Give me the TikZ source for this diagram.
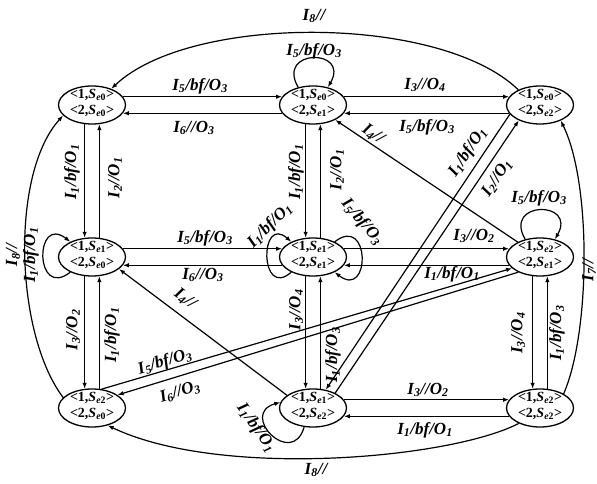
\documentclass[tikz,border=0pt]{standalone}
\usepackage{fontspec}
\setmainfont{Liberation Serif}
\usetikzlibrary{shapes.geometric,arrows.meta}
% transition labels: input / action / output
\newcommand{\io}[3]{\textit{I}\textsubscript{#1}/#2/\textit{O}\textsubscript{#3}}
\newcommand{\iz}[1]{\textit{I}\textsubscript{#1}//}
% state pair <1,S_e#1> over <2,S_e#2>
\newcommand{\pr}[2]{\raisebox{-0.27em}{\smash{\makebox[0pt]{\begin{tabular}{@{}c@{}}<1,\textit{S}\textsubscript{\textit{e}#1}>\\<2,\textit{S}\textsubscript{\textit{e}#2}>\end{tabular}}}}}
\begin{document}
\begin{tikzpicture}[x=1pt,y=1pt,
  st/.style={ellipse,draw,line width=1.3pt,minimum width=67pt,minimum height=38pt,
    inner sep=0pt,font=\fontsize{14}{16}\selectfont\bfseries},
  lab/.style={inner sep=0pt,font=\fontsize{17}{17}\selectfont\bfseries\itshape},
  arr/.style={line width=1.2pt,-{Latex[length=6pt,width=4.5pt]}}]
\fill[white] (0,0) rectangle (597,484);
\useasboundingbox (0,0) rectangle (597,484);

% states
\node[st] (A) at (92,379) {\pr{0}{0}};
\node[st] (B) at (313,379) {\pr{0}{1}};
\node[st] (C) at (540,379) {\pr{0}{2}};
\node[st] (D) at (92,227) {\pr{1}{0}};
\node[st] (E) at (313,227) {\pr{1}{1}};
\node[st] (F) at (540,227) {\pr{2}{1}};
\node[st] (G) at (92,76) {\pr{2}{0}};
\node[st] (H) at (313,76) {\pr{1}{2}};
\node[st] (I) at (540,76) {\pr{2}{2}};

% horizontal transitions
\draw[arr] (A.15) -- (B.165);
\draw[arr] (B.195) -- (A.345);
\draw[arr] (B.15) -- (C.165);
\draw[arr] (C.195) -- (B.345);
\draw[arr] (D.15) -- (E.165);
\draw[arr] (E.195) -- (D.345);
\draw[arr] (E.15) -- (F.165);
\draw[arr] (F.195) -- (E.345);
\draw[arr] (H.15) -- (I.165);
\draw[arr] (I.195) -- (H.345);

% vertical transitions
\draw[arr] (A.249) -- (D.111);
\draw[arr] (D.69) -- (A.291);
\draw[arr] (D.249) -- (G.111);
\draw[arr] (G.69) -- (D.291);
\draw[arr] (B.249) -- (E.111);
\draw[arr] (E.69) -- (B.291);
\draw[arr] (E.249) -- (H.111);
\draw[arr] (H.69) -- (E.291);
\draw[arr] (F.249) -- (I.111);
\draw[arr] (I.69) -- (F.291);

% diagonal transitions
\draw[arr] (F) -- (B);
\draw[arr] (H.154) -- (D.336);
\draw[arr] (C.197) -- (H.55);
\draw[arr] (H.34) -- (C.216);
\draw[arr] (G.63) -- (F.202);
\draw[arr] (F.215) -- (G.27);

% outer arcs
\draw[arr] (C.145) .. controls (440,470) and (190,470) .. (A.40);
\draw[arr] (G.160) .. controls (15,150) and (10,310) .. (A.200);
\draw[arr] (I.31) .. controls (590,150) and (592,300) .. (C.323);
\draw[arr] (I.216) .. controls (450,25) and (220,5) .. (G.312);

% self loops
\draw[arr] (B.130) .. controls +(120:45) and +(60:45) .. (B.50);
\draw[arr] (F.130) .. controls +(120:45) and +(60:45) .. (F.50);
\draw[arr] (D.215) .. controls +(-36,-28) and +(-36,28) .. (D.145);
\draw[arr] (E.215) .. controls +(-32,-28) and +(-32,28) .. (E.145);
\draw[arr] (E.35) .. controls +(36,28) and +(36,-28) .. (E.325);
\draw[arr] (H.245) .. controls +(-12,-42) and +(-42,-12) .. (H.170);

% labels
\node[lab] (l1) at (200,398) {\io{5}{bf}{3}};
\node[lab] (l2) at (194,356) {\io{6}{}{3}};
\node[lab] (l3) at (314,433) {\io{5}{bf}{3}};
\node[lab] (l4) at (425,399) {\io{3}{}{4}};
\node[lab] (l5) at (427,357) {\io{5}{bf}{3}};
\node[lab] (l6) at (314,468) {\iz{8}};
\node[lab,rotate=90] (l7) at (72,312) {\io{1}{bf}{1}};
\node[lab,rotate=90] (l8) at (115,306) {\io{2}{}{1}};
\node[lab,rotate=90] (l9) at (31,229) {\io{1}{bf}{1}};
\node[lab,rotate=90] (l10) at (13,229) {\iz{8}};
\node[lab] (l11) at (205,246) {\io{5}{bf}{3}};
\node[lab] (l12) at (203,209) {\io{6}{}{3}};
\node[lab,rotate=45] (l13) at (270,258) {\io{1}{bf}{1}};
\node[lab,rotate=-50] (l14) at (362,262) {\io{5}{bf}{3}};
\node[lab,rotate=90] (l15) at (296,312) {\io{1}{bf}{1}};
\node[lab,rotate=90] (l16) at (337,314) {\io{2}{}{1}};
\node[lab,rotate=-34] (l17) at (373,350) {\iz{4}};
\node[lab,rotate=56] (l18) at (468,332) {\io{1}{bf}{1}};
\node[lab,rotate=56] (l19) at (497,306) {\io{2}{}{1}};
\node[lab] (l20) at (539,286) {\io{5}{bf}{3}};
\node[lab] (l21) at (474,248) {\io{3}{}{2}};
\node[lab] (l22) at (452,210) {\io{1}{bf}{1}};
\node[lab,rotate=90] (l23) at (518,151) {\io{3}{}{4}};
\node[lab,rotate=90] (l24) at (557,151) {\io{1}{bf}{3}};
\node[lab,rotate=90] (l25) at (589,214) {\iz{7}};
\node[lab,rotate=90] (l26) at (73,154) {\io{3}{}{2}};
\node[lab,rotate=90] (l27) at (112,149) {\io{1}{bf}{1}};
\node[lab,rotate=17] (l28) at (165,122) {\io{5}{bf}{3}};
\node[lab,rotate=17] (l29) at (180,92) {\io{6}{}{3}};
\node[lab,rotate=-36] (l30) at (185,185) {\iz{4}};
\node[lab,rotate=90] (l31) at (296,174) {\io{3}{}{4}};
\node[lab,rotate=90] (l32) at (333,129) {\io{1}{bf}{3}};
\node[lab,rotate=-55] (l33) at (256,56) {\io{1}{bf}{1}};
\node[lab] (l34) at (428,94) {\io{3}{}{2}};
\node[lab] (l35) at (425,54) {\io{1}{bf}{1}};
\node[lab] (l36) at (316,14) {\iz{8}};
\end{tikzpicture}
\end{document}
